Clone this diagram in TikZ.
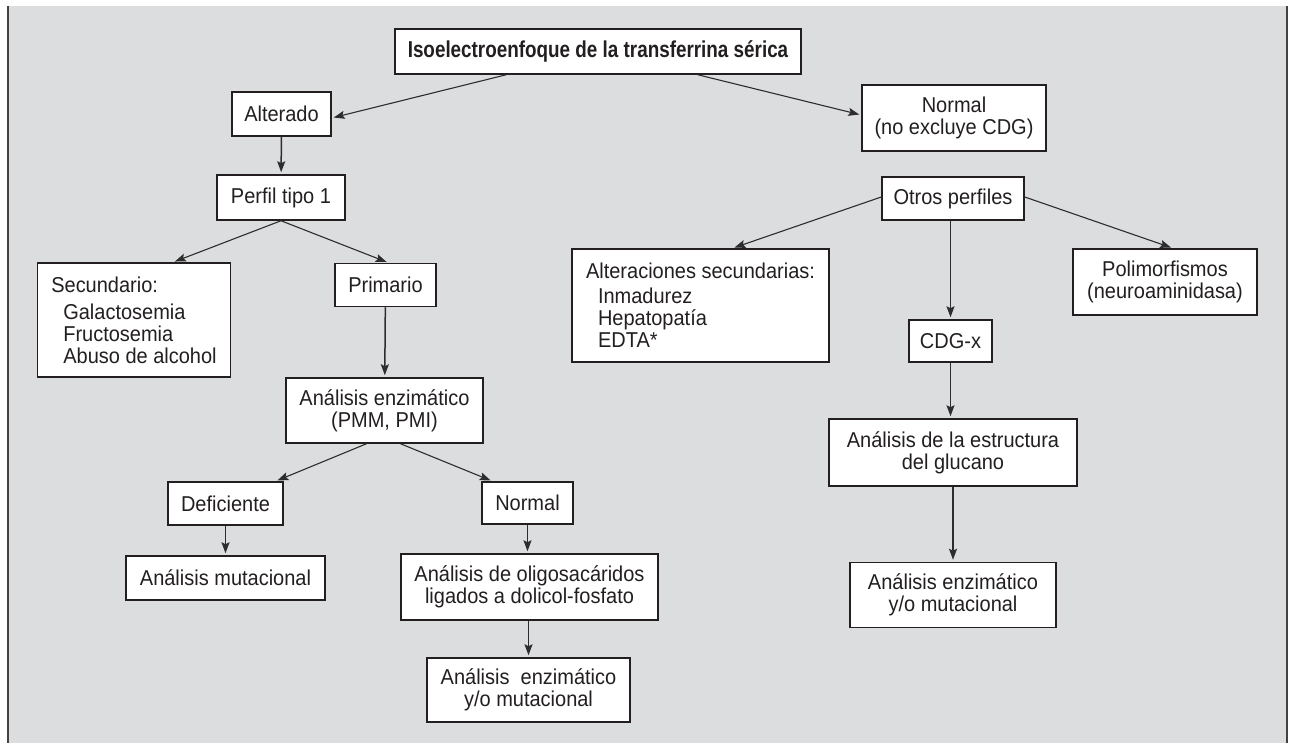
\documentclass[tikz,border=0pt]{standalone}
\usepackage{fontspec}
\setmainfont[FakeStretch=0.93]{Liberation Sans}
\newfontfamily\titlefont[FakeStretch=0.82]{Liberation Sans}
\usetikzlibrary{arrows.meta}

\definecolor{bggray}{RGB}{220,221,223}
\definecolor{ink}{RGB}{35,31,32}
\definecolor{linegray}{RGB}{45,45,45}

\tikzset{
	box/.style={draw=ink, fill=white, line width=1.5pt, text=ink, align=center,
		inner sep=2pt, font=\fontsize{21.5}{22}\selectfont},
	link/.style={draw=linegray, line width=1.1pt,
		-{Stealth[length=11pt,width=8pt,inset=2pt]}, shorten >=2pt},
	downlink/.style={link, line width=1.5pt},
}

\begin{document}
\begin{tikzpicture}[x=1pt, y=-1pt]
		\useasboundingbox (0,0) rectangle (1293,743);
		\fill [bggray] (8,6) rectangle (1287,743);
		\draw [line width=1.6pt, ink!85] (8,6) -- (8,743);
		\draw [line width=1.6pt, ink!85] (1287,6) -- (1287,743);

		\node [box, minimum width=406pt, minimum height=45pt,
		font=\titlefont\bfseries\fontsize{23}{24}\selectfont] (iso) at (598,51.5) {Isoelectroenfoque de la transferrina sérica};

		\node [box, minimum width=99pt, minimum height=44pt] (alterado) at (281.5,114) {Alterado};
		\node [box, minimum width=128pt, minimum height=45pt] (perfil) at (281,197.5) {Perfil tipo 1};
		\node [box, minimum width=193pt, minimum height=114pt, align=left] (secund) at (134,320) {Secundario:\\[5pt]
		\hspace*{12pt}Galactosemia\\ \hspace*{12pt}Fructosemia\\ \hspace*{12pt}Abuso de alcohol};
		\node [box, minimum width=101pt, minimum height=43pt] (primario) at (385.5,285) {Primario};
		\node [box, minimum width=197pt, minimum height=65pt] (enzpmm) at (384.5,410.5) {Análisis enzimático\\(PMM, PMI)};
		\node [box, minimum width=115pt, minimum height=43pt] (deficiente) at (225.5,503.5) {Deficiente};
		\node [box, minimum width=91pt, minimum height=42pt] (normalb) at (527.5,503) {Normal};
		\node [box, minimum width=199pt, minimum height=44pt] (mutac) at (225.5,578) {Análisis mutacional};
		\node [box, minimum width=257pt, minimum height=66pt] (oligo) at (529.5,587) {Análisis de oligosacáridos\\ligados a dolicol-fosfato};
		\node [box, minimum width=203pt, minimum height=64pt] (enzb) at (528.5,690) {Análisis\ \ enzimático\\y/o mutacional};

		\node [box, minimum width=184pt, minimum height=66pt] (normala) at (954,118) {Normal\\(no excluye CDG)};
		\node [box, minimum width=142pt, minimum height=43pt] (otros) at (953,198.5) {Otros perfiles};
		\node [box, minimum width=257pt, minimum height=113pt, align=left] (altsec) at (700.5,305.5) {Alteraciones secundarias:\\[3pt]
		\hspace*{12pt}Inmadurez\\ \hspace*{12pt}Hepatopatía\\ \hspace*{12pt}EDTA*};
		\node [box, minimum width=83pt, minimum height=42pt] (cdgx) at (950.5,341) {CDG-x};
		\node [box, minimum width=184pt, minimum height=66pt] (polim) at (1165,282) {Polimorfismos\\(neuroaminidasa)};
		\node [box, minimum width=248pt, minimum height=67pt] (estruct) at (953,452.5) {Análisis de la estructura\\del glucano};
		\node [box, minimum width=206pt, minimum height=65pt] (enzc) at (953,595) {Análisis enzimático\\y/o mutacional};

		\draw [link] ([xshift=112pt]iso.south west) -- ([yshift=-4pt]alterado.east);
		\draw [link] ([xshift=-104pt]iso.south east) -- ([yshift=3pt]normala.west);

		\draw [downlink] (alterado) -- (perfil);
		\draw [link] (perfil.south) -- ([xshift=39pt]secund.north);
		\draw [link] (perfil.south) -- ([xshift=3pt]primario.north);
		\draw [downlink] (primario) -- (enzpmm);
		\draw [link] ([xshift=-18pt]enzpmm.south) -- ([xshift=50pt]deficiente.north);
		\draw [link] ([xshift=16pt]enzpmm.south) -- ([xshift=-35pt]normalb.north);
		\draw [downlink] (deficiente) -- (mutac);
		\draw [downlink] (normalb.south) -- (normalb.south |- oligo.north);
		\draw [downlink] (enzb.north |- oligo.south) -- (enzb.north);

		\draw [link] ([yshift=1.5pt]otros.west) -- ([xshift=32pt]altsec.north);
		\draw [link] ([yshift=1.5pt]otros.east) -- ([xshift=8pt]polim.north);
		\draw [downlink] (otros.south -| cdgx.north) -- (cdgx.north);
		\draw [downlink] (cdgx.south) -- (cdgx.south |- estruct.north);
		\draw [downlink] (estruct) -- (enzc);
	\end{tikzpicture}
\end{document}
